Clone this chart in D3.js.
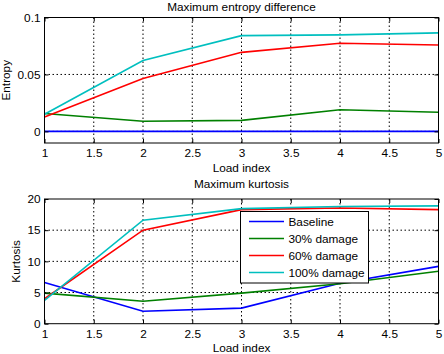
<!DOCTYPE html>
<html><head><meta charset="utf-8">
<script src="https://cdn.jsdelivr.net/npm/d3@7"></script>
<style>
body{margin:0;background:#fff;}
text{font-family:"Liberation Sans",Arial,sans-serif;font-size:11.8px;fill:#000;}
</style></head><body>
<svg id="c" width="444" height="354"></svg>
<script>
const loadIndex = [1, 2, 3, 4, 5];
const seriesNames = ["Baseline", "30% damage", "60% damage", "100% damage"];
const seriesColors = ["#0000ff", "#008000", "#ff0000", "#00bfbf"];
const entropyBaseline = [0, 0, 0, 0, 0];
const entropy30 = [0.0157, 0.0089, 0.0097, 0.0190, 0.0168];
const entropy60 = [0.0127, 0.0464, 0.0694, 0.0774, 0.0758];
const entropy100 = [0.0150, 0.0623, 0.0841, 0.0847, 0.0865];
const kurtBaseline = [6.6, 2.0, 2.5, 6.5, 9.2];
const kurt30 = [4.9, 3.6, 4.9, 6.4, 8.4];
const kurt60 = [4.0, 15.0, 18.3, 18.55, 18.3];
const kurt100 = [3.75, 16.6, 18.45, 18.8, 18.9];
const xTicks = [1, 1.5, 2, 2.5, 3, 3.5, 4, 4.5, 5];
const entropyTicks = [0, 0.05, 0.1];
const kurtTicks = [0, 5, 10, 15, 20];

const svg = d3.select("#c");
const L = 44.5, R = 438.5;
const FONT = '"Liberation Sans",Arial,sans-serif';

function panel(top, bottom, ydom, yTicks, title, titleY, ylabel, ylabelX, data, tickFmt) {
  const x = d3.scaleLinear().domain([1, 5]).range([L, R]);
  const y = d3.scaleLinear().domain(ydom).range([bottom, top]);
  const g = svg.append("g");
  g.selectAll(".gx").data(xTicks.slice(1, -1)).join("line")
    .attr("x1", d => x(d)).attr("x2", d => x(d)).attr("y1", top).attr("y2", bottom)
    .attr("stroke", "#000").attr("stroke-width", 1).attr("stroke-dasharray", "1.5,2.5");
  g.selectAll(".gy").data(yTicks.filter(d => y(d) > top + 1 && y(d) < bottom - 1)).join("line")
    .attr("x1", L).attr("x2", R).attr("y1", d => y(d)).attr("y2", d => y(d))
    .attr("stroke", "#000").attr("stroke-width", 1).attr("stroke-dasharray", "1.5,2.5");
  const line = d3.line().x((d, i) => x(loadIndex[i])).y(d => y(d));
  data.forEach((s, i) => {
    g.append("path").attr("d", line(s)).attr("fill", "none")
      .attr("stroke", seriesColors[i]).attr("stroke-width", 1.6);
  });
  g.append("rect").attr("x", L).attr("y", top).attr("width", R - L).attr("height", bottom - top)
    .attr("fill", "none").attr("stroke", "#000").attr("stroke-width", 1);
  const ax = d3.axisBottom(x).tickValues(xTicks).tickSize(-4).tickPadding(6).tickFormat(d3.format("~g"));
  const axg = g.append("g").attr("transform", `translate(0,${bottom})`).call(ax);
  axg.select(".domain").remove();
  const axt = d3.axisTop(x).tickValues(xTicks).tickSize(-4).tickFormat("");
  g.append("g").attr("transform", `translate(0,${top})`).call(axt).select(".domain").remove();
  const ay = d3.axisLeft(y).tickValues(yTicks).tickSize(-4).tickPadding(4).tickFormat(tickFmt);
  g.append("g").attr("transform", `translate(${L},0)`).call(ay).select(".domain").remove();
  const ayr = d3.axisRight(y).tickValues(yTicks).tickSize(-4).tickFormat("");
  g.append("g").attr("transform", `translate(${R},0)`).call(ayr).select(".domain").remove();
  g.selectAll(".tick text").style("font-family", FONT).style("font-size", "11.8px").attr("fill", "#000");
  g.selectAll(".tick line").attr("stroke", "#000");
  g.append("text").attr("x", (L + R) / 2).attr("y", titleY).attr("text-anchor", "middle").text(title);
  g.append("text").attr("x", (L + R) / 2).attr("y", bottom + 28.5).attr("text-anchor", "middle").text("Load index");
  g.append("text").attr("transform", `translate(${ylabelX},${(top + bottom) / 2}) rotate(-90)`)
    .attr("text-anchor", "middle").text(ylabel);
  return {x, y};
}

panel(17.5, 143, [-0.0102, 0.1], entropyTicks, "Maximum entropy difference", 10.5, "Entropy", 9.5,
  [entropyBaseline, entropy30, entropy60, entropy100], d3.format("~g"));
panel(199, 323.7, [0, 20], kurtTicks, "Maximum kurtosis", 188, "Kurtosis", 19.5,
  [kurtBaseline, kurt30, kurt60, kurt100], d3.format("~g"));

const lg = svg.append("g");
lg.append("rect").attr("x", 240.5).attr("y", 211.5).attr("width", 128).attr("height", 71.5)
  .attr("fill", "#fff").attr("stroke", "#000").attr("stroke-width", 1);
seriesNames.forEach((n, i) => {
  const yy = 221.5 + i * 17;
  lg.append("line").attr("x1", 249).attr("x2", 284).attr("y1", yy).attr("y2", yy)
    .attr("stroke", seriesColors[i]).attr("stroke-width", 1.6);
  lg.append("text").attr("x", 288.5).attr("y", yy + 4.2).text(n);
});
</script></body></html>
